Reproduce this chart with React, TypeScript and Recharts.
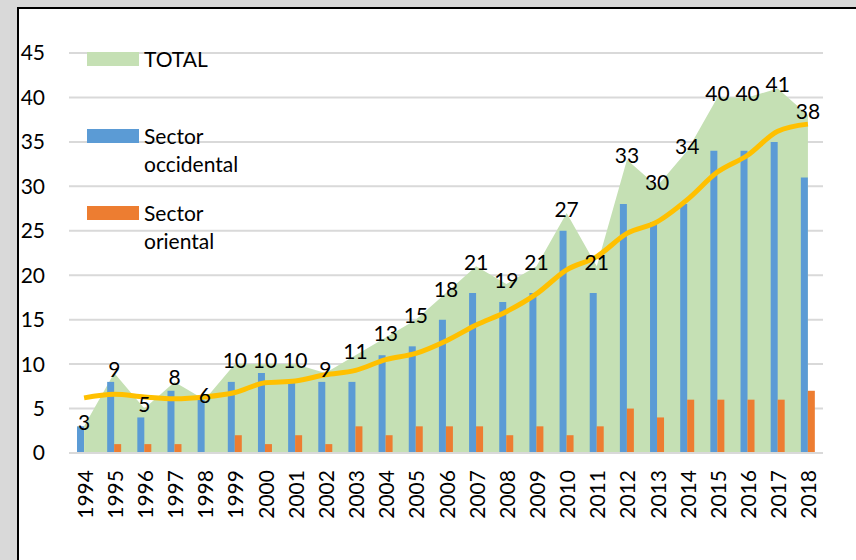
import {
  ComposedChart,
  Area,
  Bar,
  Line,
  XAxis,
  YAxis,
  CartesianGrid,
  Legend,
  LabelList,
} from "recharts";

const years = [
  "1994", "1995", "1996", "1997", "1998", "1999", "2000", "2001", "2002",
  "2003", "2004", "2005", "2006", "2007", "2008", "2009", "2010", "2011",
  "2012", "2013", "2014", "2015", "2016", "2017", "2018",
];
const total = [3, 9, 5, 8, 6, 10, 10, 10, 9, 11, 13, 15, 18, 21, 19, 21, 27, 21, 33, 30, 34, 40, 40, 41, 38];
const occidental = [3, 8, 4, 7, 6, 8, 9, 8, 8, 8, 11, 12, 15, 18, 17, 18, 25, 18, 28, 26, 28, 34, 34, 35, 31];
const oriental = [0, 1, 1, 1, 0, 2, 1, 2, 1, 3, 2, 3, 3, 3, 2, 3, 2, 3, 5, 4, 6, 6, 6, 6, 7];
const trend = [6.2, 6.6, 6.3, 6.1, 6.3, 6.8, 7.9, 8.1, 8.8, 9.3, 10.5, 11.2, 12.6, 14.4, 15.9, 17.9, 20.6, 22.1, 24.7, 26.0, 28.5, 31.6, 33.5, 36.2, 37.0];
const yTicks = [0, 5, 10, 15, 20, 25, 30, 35, 40, 45];

const legendItems = [
  { lines: ["TOTAL"], color: "#c5e0b4" },
  { lines: ["Sector", "occidental"], color: "#5b9bd5" },
  { lines: ["Sector", "oriental"], color: "#ed7d31" },
];

const data = years.map((year, i) => ({
  year,
  total: total[i],
  occidental: occidental[i],
  oriental: oriental[i],
  trend: trend[i],
}));

const FONT = "Lato, 'Open Sans', sans-serif";
const FS = 21;

function YearTick({ x, y, payload }: any) {
  return (
    <text
      x={x}
      y={y}
      transform={`rotate(-90, ${x}, ${y})`}
      textAnchor="end"
      dominantBaseline="central"
      fontSize={FS}
      fontFamily={FONT}
      fill="#000"
    >
      {payload.value}
    </text>
  );
}

function TotalLabel({ x, y, value }: any) {
  return (
    <text
      x={x}
      y={y - 5}
      textAnchor="middle"
      dominantBaseline="central"
      fontSize={FS}
      fontFamily={FONT}
      fill="#000"
    >
      {value}
    </text>
  );
}

function LegendBox() {
  return (
    <div style={{ fontFamily: FONT, fontSize: FS, color: "#000" }}>
      {legendItems.map((item) => (
        <div
          key={item.lines.join(" ")}
          style={{ display: "flex", alignItems: "flex-start", height: 77 }}
        >
          <div
            style={{
              width: 52,
              height: 14,
              background: item.color,
              flex: "none",
            }}
          />
          <div style={{ marginLeft: 5, marginTop: -7, lineHeight: "28px" }}>
            {item.lines.map((l) => (
              <div key={l}>{l}</div>
            ))}
          </div>
        </div>
      ))}
    </div>
  );
}

export default function App() {
  return (
    <div
      style={{
        position: "absolute",
        left: 0,
        top: 0,
        width: 856,
        height: 560,
        background: "#d9d9d9",
        overflow: "hidden",
      }}
    >
      <div
        style={{
          position: "absolute",
          left: 17,
          top: 7,
          width: 900,
          height: 600,
          background: "#fff",
          border: "2px solid #000",
        }}
      />
      <div style={{ position: "absolute", left: 0, top: 0 }}>
        <ComposedChart
          width={856}
          height={560}
          data={data}
          margin={{ top: 53, right: 33, bottom: 7, left: 19 }}
          barGap={0}
        >
          <CartesianGrid vertical={false} stroke="#d9d9d9" strokeWidth={2} />
          <XAxis
            dataKey="year"
            interval={0}
            height={100}
            tickLine={false}
            tickSize={0}
            tickMargin={17}
            axisLine={{ stroke: "#d9d9d9", strokeWidth: 2 }}
            tick={<YearTick />}
          />
          <YAxis
            domain={[0, 45]}
            ticks={yTicks}
            width={50}
            axisLine={false}
            tickLine={false}
            tickSize={0}
            tickMargin={24}
            tick={{ fontSize: FS, fontFamily: FONT, fill: "#000" }}
          />
          <Legend
            layout="vertical"
            align="center"
            verticalAlign="middle"
            wrapperStyle={{ left: 87, top: 52, width: 200 }}
            content={<LegendBox />}
          />
          <Area
            type="linear"
            dataKey="total"
            name="TOTAL"
            fill="#c5e0b4"
            fillOpacity={1}
            stroke="none"
            isAnimationActive={false}
          />
          <Bar
            dataKey="occidental"
            name="Sector occidental"
            fill="#5b9bd5"
            barSize={7}
            isAnimationActive={false}
          />
          <Bar
            dataKey="oriental"
            name="Sector oriental"
            fill="#ed7d31"
            barSize={7}
            isAnimationActive={false}
          />
          <Line
            type="monotone"
            dataKey="trend"
            stroke="#ffc000"
            strokeWidth={5}
            dot={false}
            activeDot={false}
            legendType="none"
            isAnimationActive={false}
          />
          <Line
            dataKey="total"
            stroke="none"
            dot={false}
            activeDot={false}
            legendType="none"
            isAnimationActive={false}
          >
            <LabelList dataKey="total" content={<TotalLabel />} />
          </Line>
        </ComposedChart>
      </div>
    </div>
  );
}
